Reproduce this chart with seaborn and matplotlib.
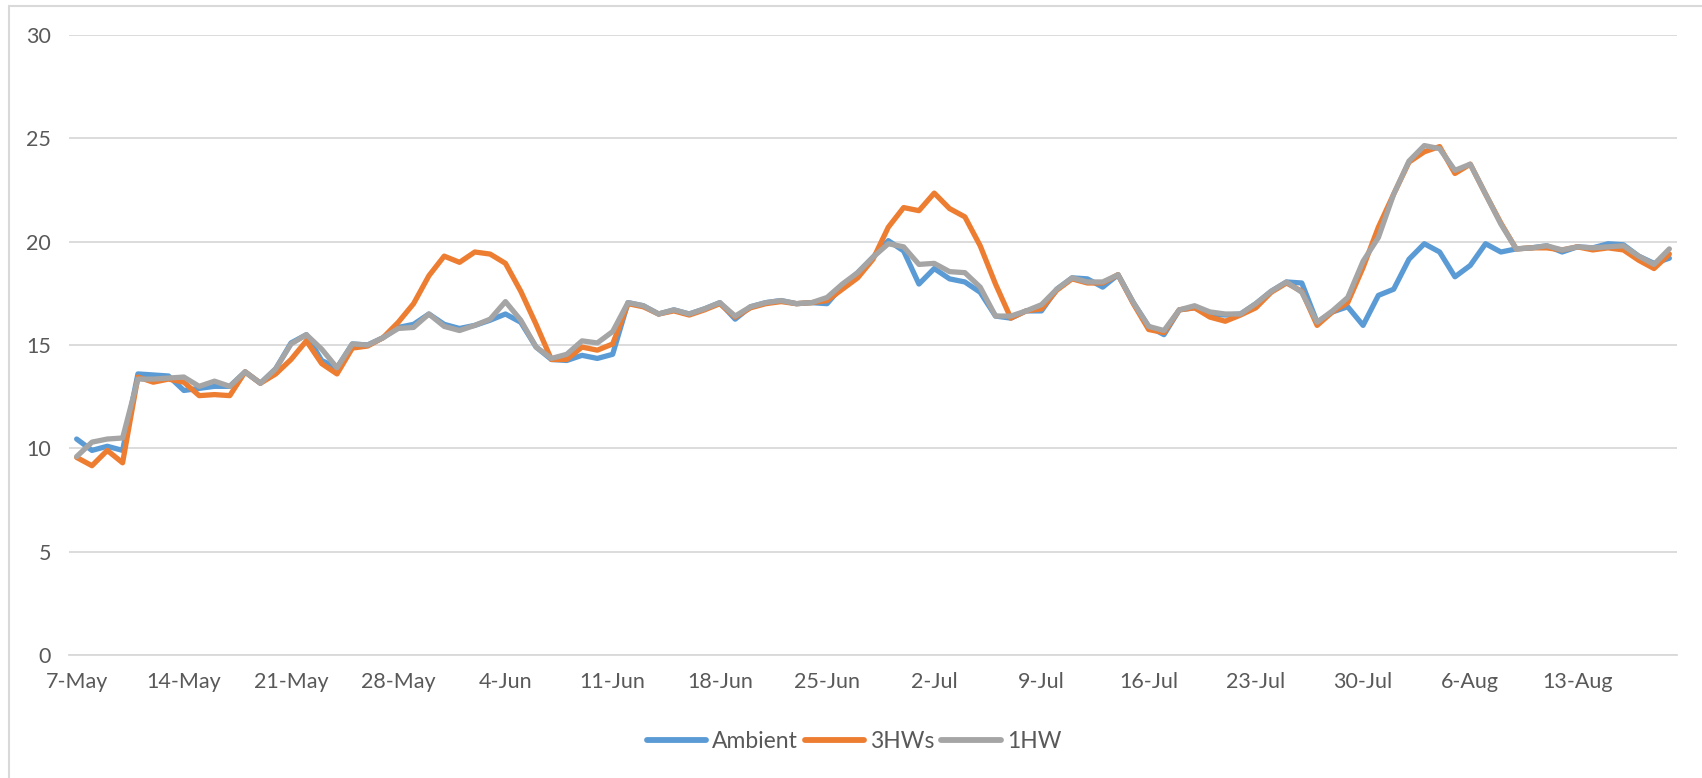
# ==========================================================
# Daily temperature: Ambient vs 3HWs vs 1HW
# ==========================================================

import numpy as np
import pandas as pd
import matplotlib
matplotlib.use("Agg")
import matplotlib.pyplot as plt
import seaborn as sns
from matplotlib.lines import Line2D

# ==========================================================
# DATA (7-May .. 19-Aug)
# ==========================================================

ambient = [
    10.45, 9.9, 10.1, 9.9, 13.6, 13.55, 13.5, 12.8, 12.9, 13.0,
    13.0, 13.7, 13.15, 13.85, 15.1, 15.5, 14.25, 13.9, 15.05, 15.0,
    15.35, 15.85, 16.0, 16.5, 16.0, 15.8, 15.95, 16.2, 16.5, 16.1,
    14.9, 14.3, 14.25, 14.5, 14.35, 14.55, 17.05, 16.9, 16.5, 16.7,
    16.5, 16.75, 17.05, 16.25, 16.85, 17.05, 17.15, 17.0, 17.05, 17.0,
    17.85, 18.5, 19.25, 20.05, 19.55, 17.95, 18.7, 18.2, 18.05, 17.55,
    16.4, 16.3, 16.65, 16.65, 17.7, 18.25, 18.2, 17.8, 18.4, 17.05,
    15.9, 15.5, 16.7, 16.8, 16.5, 16.45, 16.5, 17.0, 17.6, 18.05,
    18.0, 16.1, 16.6, 16.85, 15.95, 17.4, 17.7, 19.15, 19.9, 19.5,
    18.3, 18.85, 19.9, 19.5, 19.65, 19.7, 19.8, 19.5, 19.75, 19.7,
    19.9, 19.85, 19.3, 18.95, 19.2
]

hw3 = [
    9.56, 9.16, 9.9, 9.3, 13.45, 13.2, 13.35, 13.2, 12.55, 12.6,
    12.55, 13.7, 13.15, 13.6, 14.3, 15.2, 14.1, 13.6, 14.85, 14.95,
    15.35, 16.1, 17.0, 18.35, 19.3, 19.0, 19.5, 19.4, 18.95, 17.6,
    16.0, 14.3, 14.3, 14.9, 14.75, 15.05, 17.0, 16.85, 16.5, 16.65,
    16.45, 16.7, 17.0, 16.35, 16.8, 17.0, 17.1, 17.0, 17.05, 17.15,
    17.7, 18.25, 19.15, 20.7, 21.65, 21.5, 22.35, 21.6, 21.2, 19.8,
    17.95, 16.3, 16.65, 16.75, 17.65, 18.2, 18.0, 18.0, 18.4, 17.0,
    15.75, 15.6, 16.7, 16.8, 16.35, 16.15, 16.45, 16.8, 17.55, 18.0,
    17.6, 15.95, 16.6, 17.05, 18.75, 20.7, 22.3, 23.85, 24.35, 24.6,
    23.3, 23.75, 22.3, 20.9, 19.65, 19.7, 19.7, 19.6, 19.75, 19.6,
    19.7, 19.6, 19.1, 18.7, 19.4
]

hw1 = [
    9.6, 10.3, 10.45, 10.5, 13.35, 13.35, 13.4, 13.45, 13.0, 13.25,
    13.0, 13.7, 13.15, 13.85, 15.05, 15.5, 14.8, 13.9, 15.05, 15.0,
    15.35, 15.8, 15.85, 16.5, 15.9, 15.7, 15.95, 16.25, 17.1, 16.2,
    14.9, 14.35, 14.55, 15.2, 15.1, 15.65, 17.05, 16.9, 16.5, 16.7,
    16.5, 16.75, 17.05, 16.4, 16.85, 17.05, 17.15, 17.0, 17.05, 17.3,
    17.95, 18.5, 19.25, 19.9, 19.75, 18.9, 18.95, 18.55, 18.5, 17.8,
    16.4, 16.4, 16.65, 16.95, 17.7, 18.25, 18.05, 18.05, 18.4, 17.05,
    15.9, 15.7, 16.7, 16.9, 16.6, 16.5, 16.5, 17.0, 17.6, 18.05,
    17.55, 16.1, 16.65, 17.3, 19.05, 20.2, 22.3, 23.9, 24.65, 24.5,
    23.45, 23.75, 22.3, 20.85, 19.65, 19.7, 19.8, 19.6, 19.75, 19.7,
    19.75, 19.8, 19.3, 18.9, 19.65
]

series_names = ["Ambient", "3HWs", "1HW"]
series_colors = ["#5B9BD5", "#ED7D31", "#A5A5A5"]

tick_labels = [
    "7-May", "14-May", "21-May", "28-May", "4-Jun",
    "11-Jun", "18-Jun", "25-Jun", "2-Jul", "9-Jul",
    "16-Jul", "23-Jul", "30-Jul", "6-Aug", "13-Aug"
]

# ==========================================================
# LONG FORMAT
# ==========================================================

day = np.arange(len(ambient))

df = pd.concat([

    pd.DataFrame({"Day": day, "Temp": ambient, "Series": "Ambient"}),

    pd.DataFrame({"Day": day, "Temp": hw3, "Series": "3HWs"}),

    pd.DataFrame({"Day": day, "Temp": hw1, "Series": "1HW"})
])

# ==========================================================
# PLOT
# ==========================================================

sns.set_style("white")
plt.rcParams["font.family"] = ["Lato", "DejaVu Sans"]

text_col = "#595959"
grid_col = "#D9D9D9"

fig = plt.figure(figsize=(17.02, 7.78), dpi=100)

ax = fig.add_axes([69 / 1702, 1 - 655 / 778, (1677 - 69) / 1702, (655 - 35) / 778])

sns.lineplot(

    data=df,

    x="Day",
    y="Temp",

    hue="Series",
    hue_order=series_names,
    palette=series_colors,

    linewidth=3.8,
    sort=False,
    legend=False,

    ax=ax
)

for line in ax.lines:
    line.set_solid_joinstyle("round")
    line.set_solid_capstyle("round")

ax.set_xlim(-0.47, len(ambient) - 0.53)
ax.set_ylim(0, 30)

ax.set_yticks(range(0, 31, 5))
ax.yaxis.grid(True, color=grid_col, linewidth=1.3)
ax.set_axisbelow(True)

# labels on the data day, tick marks between days (Excel date axis)
ax.set_xticks(day[::7])
ax.set_xticklabels(tick_labels)
ax.set_xticks(np.arange(-0.5, len(ambient), 7), minor=True)

ax.tick_params(axis="x", which="major", length=0, pad=12,
               labelsize=15.5, labelcolor=text_col)
ax.tick_params(axis="x", which="minor", length=7, width=1.3,
               color=grid_col, direction="out")
ax.tick_params(axis="y", length=0, pad=13,
               labelsize=15.5, labelcolor=text_col)

ax.set_xlabel("")
ax.set_ylabel("")

for side in ["top", "right", "left"]:
    ax.spines[side].set_visible(False)

ax.spines["bottom"].set_color(grid_col)
ax.spines["bottom"].set_linewidth(1.3)

# ==========================================================
# LEGEND
# ==========================================================

handles = [

    Line2D([0], [0], color=c, linewidth=4.2, solid_capstyle="round")

    for c in series_colors
]

fig.legend(

    handles,
    series_names,

    loc="center",
    bbox_to_anchor=(854 / 1702, 1 - 742 / 778),

    ncol=3,
    frameon=False,

    fontsize=16.5,
    labelcolor=text_col,

    handlelength=2.6,
    handletextpad=0.25,
    columnspacing=0.3
)

# ==========================================================
# CHART BORDER
# ==========================================================

fig.add_artist(Line2D([9 / 1702, 9 / 1702], [0, 1 - 6 / 778],
                      transform=fig.transFigure, color=grid_col, linewidth=1.5))
fig.add_artist(Line2D([9 / 1702, 1], [1 - 6 / 778, 1 - 6 / 778],
                      transform=fig.transFigure, color=grid_col, linewidth=1.5))

fig.savefig("out.png", dpi=100)
